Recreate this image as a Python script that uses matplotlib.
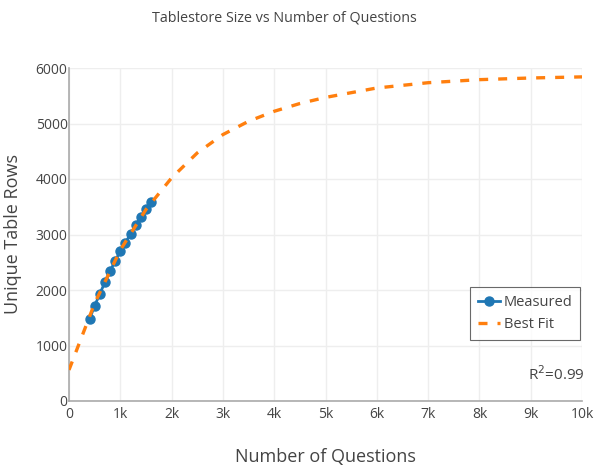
import matplotlib
matplotlib.use("Agg")
import matplotlib.pyplot as plt
from matplotlib.ticker import FixedLocator

plt.rcParams["font.family"] = ["Open Sans", "DejaVu Sans"]

# measured points
questions = [400, 500, 600, 700, 800, 900, 1000, 1100, 1200, 1300, 1400, 1500, 1600]
table_rows = [1472, 1717, 1928, 2139, 2342, 2523, 2703, 2852, 3009, 3166, 3315, 3454, 3586]

# best fit curve
fit_x = [0, 500, 1000, 1500, 2000, 2500, 3000, 3500, 4000, 4500, 5000,
         6000, 7000, 8000, 9000, 10000]
fit_y = [560, 1760, 2720, 3450, 4020, 4470, 4800, 5040, 5220, 5360, 5470,
         5640, 5735, 5790, 5820, 5840]

x_ticks = [0, 1000, 2000, 3000, 4000, 5000, 6000, 7000, 8000, 9000, 10000]
x_tick_labels = ["0", "1k", "2k", "3k", "4k", "5k", "6k", "7k", "8k", "9k", "10k"]
y_ticks = [0, 1000, 2000, 3000, 4000, 5000, 6000]

text_color = "#444444"

fig = plt.figure(figsize=(5.97, 4.72), dpi=100)
ax = fig.add_axes([69 / 597, 1 - 401 / 472, (582 - 69) / 597, (401 - 68) / 472])

ax.plot(fit_x, fit_y, color="#ff7f0e", linewidth=2.4,
        linestyle=(0, (2.7, 3.0)), label="Best Fit", zorder=3)
ax.plot(questions, table_rows, color="#1f77b4", linewidth=2,
        marker="o", markersize=6.5, label="Measured", zorder=2)

ax.set_xlim(0, 10000)
ax.set_ylim(0, 6000)
ax.xaxis.set_major_locator(FixedLocator(x_ticks))
ax.set_xticklabels(x_tick_labels)
ax.yaxis.set_major_locator(FixedLocator(y_ticks))

ax.grid(True, color="#eeeeee", linewidth=1)
ax.set_axisbelow(True)
for side in ["top", "right"]:
    ax.spines[side].set_visible(False)
for side in ["left", "bottom"]:
    ax.spines[side].set_color("#aaaaaa")
    ax.spines[side].set_linewidth(1.2)
ax.tick_params(length=0, labelsize=10, labelcolor=text_color)
ax.tick_params(axis="y", pad=1)
ax.tick_params(axis="x", pad=4)

ax.set_xlabel("Number of Questions", fontsize=13, color=text_color, labelpad=19)
ax.set_ylabel("Unique Table Rows", fontsize=13, color=text_color, labelpad=10)
fig.text(0.4765, 1 - 18 / 472, "Tablestore Size vs Number of Questions",
         ha="center", va="center", fontsize=10.3, color=text_color)

handles, labels = ax.get_legend_handles_labels()
leg = ax.legend(handles[::-1], labels[::-1], loc="upper left",
                bbox_to_anchor=((470 - 69) / 513, (401 - 287) / 333),
                fontsize=10.5, frameon=True, fancybox=False, borderpad=0.55,
                borderaxespad=0, handlelength=1.5, handletextpad=0.25,
                labelspacing=0.5, labelcolor=text_color)
leg.get_frame().set_edgecolor("#444444")
leg.get_frame().set_linewidth(0.8)

fig.text(585 / 597, 1 - 375 / 472, r"R$^2$=0.99", ha="right", va="center",
         fontsize=11, color=text_color)

fig.savefig("out.png", dpi=100)
